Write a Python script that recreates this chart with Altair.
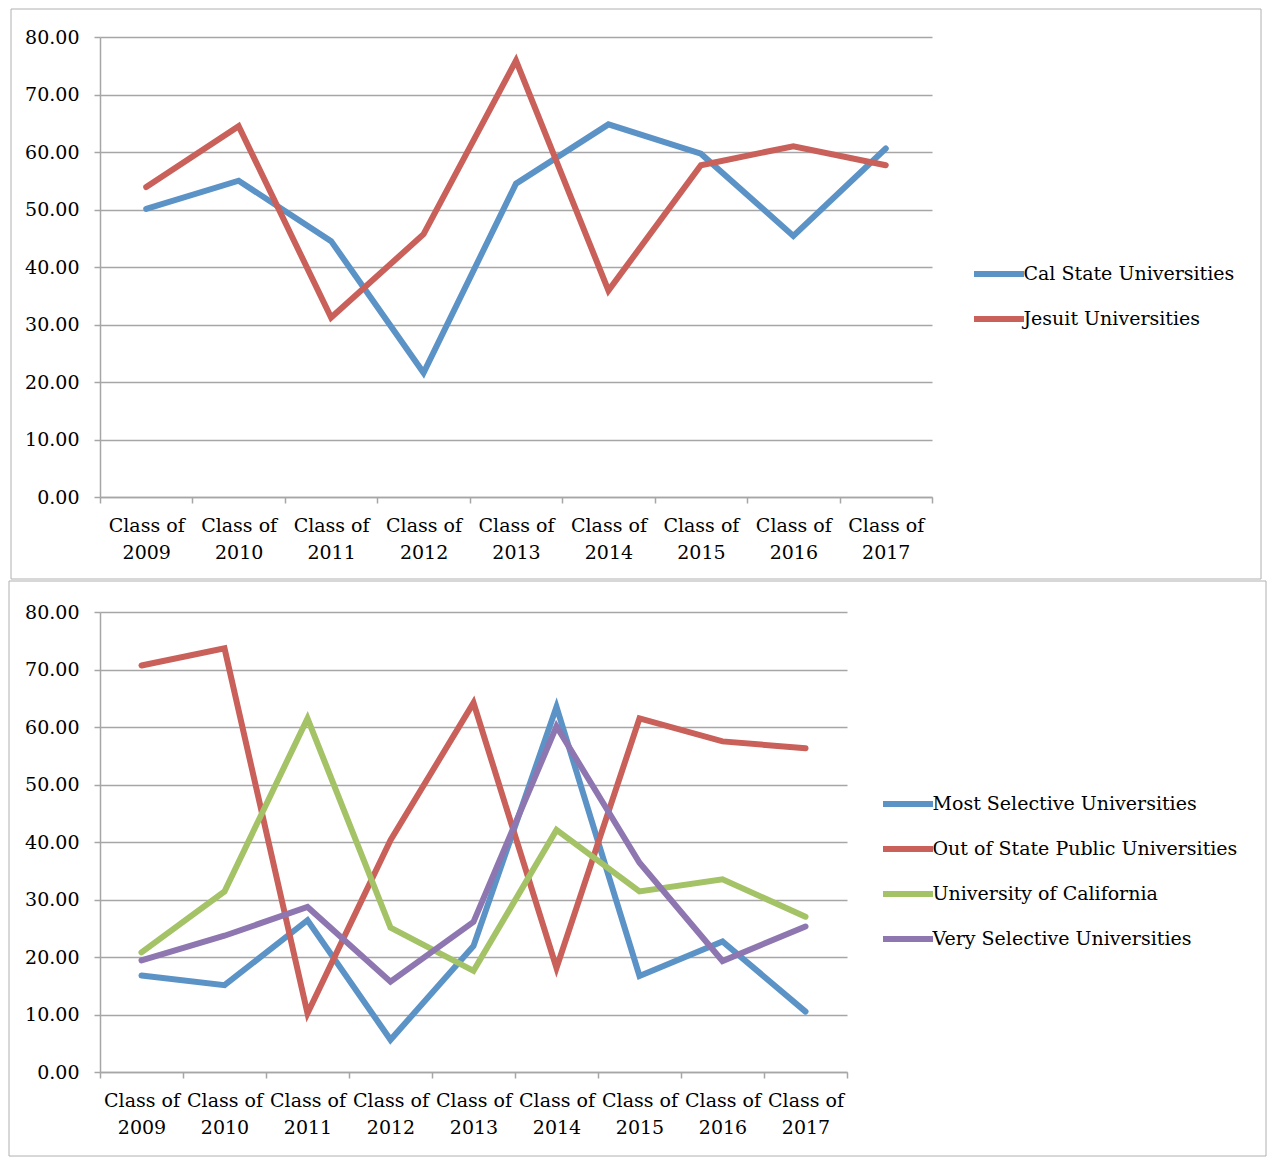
import altair as alt
import pandas as pd

# ---- data ----
classes = ["Class of 2009", "Class of 2010", "Class of 2011", "Class of 2012",
           "Class of 2013", "Class of 2014", "Class of 2015", "Class of 2016",
           "Class of 2017"]

cal_state = [50.1, 55.0, 44.5, 21.6, 54.5, 64.8, 59.7, 45.4, 60.6]
jesuit = [53.9, 64.5, 31.2, 45.7, 75.9, 35.9, 57.7, 61.0, 57.7]

most_selective = [16.8, 15.1, 26.4, 5.6, 21.9, 63.5, 16.7, 22.7, 10.5]
out_of_state = [70.7, 73.7, 10.2, 40.3, 64.2, 18.1, 61.5, 57.5, 56.3]
uc = [20.8, 31.4, 61.5, 25.1, 17.6, 42.1, 31.4, 33.5, 27.0]
very_selective = [19.4, 23.7, 28.7, 15.7, 26.1, 60.1, 36.4, 19.3, 25.3]

top_series = {"Cal State Universities": cal_state,
              "Jesuit Universities": jesuit}
top_colors = ["#5B93C7", "#C9605A"]

bottom_series = {"Most Selective Universities": most_selective,
                 "Out of State Public Universities": out_of_state,
                 "University of California": uc,
                 "Very Selective Universities": very_selective}
bottom_colors = ["#5B93C7", "#C9605A", "#A4C266", "#8E77B0"]

y_ticks = [0, 10, 20, 30, 40, 50, 60, 70, 80]

FONT = "DejaVu Serif"
GRID = "#A6A6A6"


def to_long(series):
    rows = []
    for name, values in series.items():
        for cls, v in zip(classes, values):
            rows.append({"cls": cls, "series": name, "value": v})
    return pd.DataFrame(rows)


def build_panel(series, colors, width, legend_x, legend_y, box):
    df = to_long(series)
    names = list(series.keys())

    lines = (
        alt.Chart(df)
        .mark_line(strokeWidth=6, strokeCap="round")
        .encode(
            x=alt.X("cls:N", sort=classes, bandPosition=0.5,
                    scale=alt.Scale(type="band", paddingInner=0, paddingOuter=0),
                    axis=alt.Axis(title=None, tickBand="extent", labelOverlap=False,
                                  labelBound=False, labelAngle=0,
                                  labelExpr="datum.label ? ['Class of', slice(datum.label, 9)] : ''",
                                  labelLineHeight=27, labelPadding=13, tickSize=6,
                                  domainColor=GRID, tickColor=GRID, domainWidth=1.5,
                                  tickWidth=1.5, grid=False)),
            y=alt.Y("value:Q", scale=alt.Scale(domain=[0, 80]),
                    axis=alt.Axis(title=None, values=y_ticks, format=".2f",
                                  tickSize=6, labelPadding=15, gridColor=GRID,
                                  gridWidth=1.5, domainColor=GRID, tickColor=GRID,
                                  domainWidth=1.5, tickWidth=1.5)),
            color=alt.Color("series:N", sort=names,
                            scale=alt.Scale(domain=names, range=colors),
                            legend=alt.Legend(title=None, orient="none",
                                              legendX=legend_x, legendY=legend_y,
                                              symbolType="M-2,0H2", symbolSize=625,
                                              symbolStrokeWidth=6, symbolOffset=9.5,
                                              labelOffset=9, rowPadding=17,
                                              padding=0, labelFont=FONT,
                                              labelFontSize=19, labelColor="black",
                                              labelLimit=400)),
        )
    )

    frame = (
        alt.Chart(pd.DataFrame({"a": [0]}))
        .mark_rect(fill="transparent", stroke="#B0B0B0", strokeWidth=1)
        .encode(x=alt.value(box[0]), x2=alt.value(box[1]),
                y=alt.value(box[2]), y2=alt.value(box[3]))
    )

    return alt.layer(frame, lines).properties(width=width, height=460)


top = build_panel(top_series, top_colors, 832, 874, 221.5, (-89, 1161, -28, 542))
bottom = build_panel(bottom_series, bottom_colors, 747, 783, 176.5, (-91, 1166, -31, 544))

chart = (
    alt.vconcat(top, bottom, spacing=0)
    .resolve_scale(color="independent")
    .configure_view(strokeWidth=0)
    .configure_axis(labelFont=FONT, labelFontSize=19, labelColor="black")
    .properties(padding=0, background="white")
)

chart.save("out.html", embed_options={"renderer": "svg", "actions": False})
